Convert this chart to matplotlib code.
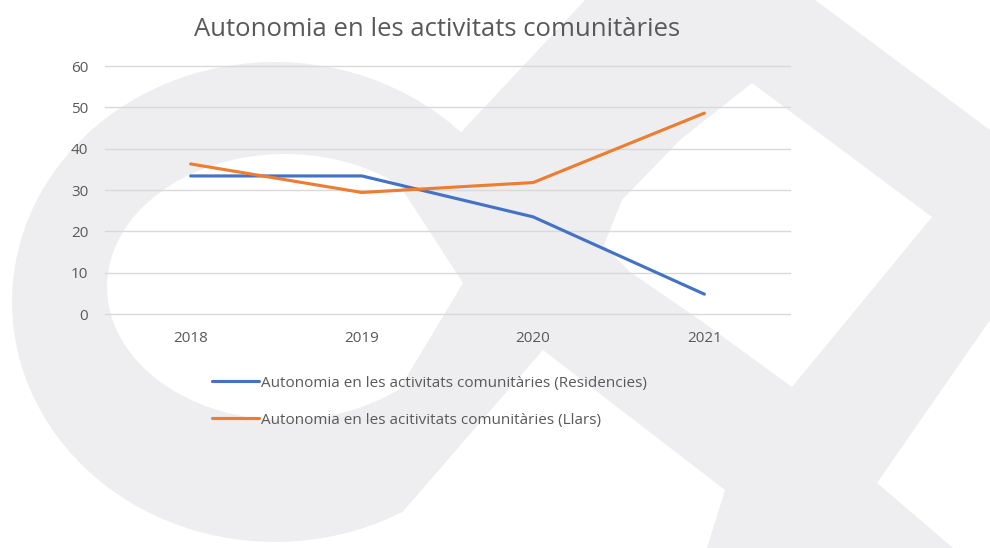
import matplotlib
matplotlib.use('Agg')
import matplotlib.pyplot as plt
from matplotlib.patches import Polygon
import numpy as np

# chart data
years = ['2018', '2019', '2020', '2021']
residencies = [33.4, 33.4, 23.5, 4.8]
llars = [36.3, 29.4, 31.8, 48.6]
labels = ['Autonomia en les activitats comunitàries (Residencies)',
          'Autonomia en les acitivitats comunitàries (Llars)']
title = 'Autonomia en les activitats comunitàries'
yticks = [0, 10, 20, 30, 40, 50, 60]

plt.rcParams['font.family'] = ['Open Sans', 'DejaVu Sans']

BLUE = '#4472C4'
ORANGE = '#ED7D31'
TEXT = '#595959'
GRID = '#d9d9d9'
WM = '#eeeef1'


def arc(cx, cy, a, b, t0, t1, n=60):
    t = np.radians(np.linspace(t0, t1, n))
    return list(zip(cx + a * np.cos(t), cy - b * np.sin(t)))


def draw_watermark(fig):
    """Light grey logo shape sitting behind the chart (pixel coords, y down)."""
    bg = fig.add_axes([0, 0, 1, 1], zorder=0)
    bg.set_xlim(0, 990)
    bg.set_ylim(548, 0)
    bg.axis('off')
    right_part = [(585, 0), (815, 0), (990, 130), (990, 320), (877, 483),
                  (953, 548), (707, 548), (725, 490), (660, 440), (543, 350)]
    outer = right_part + arc(275, 302, 263, 240, 299, 45, 80)
    bg.add_patch(Polygon(outer, closed=True, fc=WM, ec='none'))
    hole_left = [(463, 283)] + arc(285, 287, 178, 133, 50, 310, 70)
    hole_right = [(752, 83), (932, 217), (792, 387), (700, 320), (630, 272),
                  (604, 245), (622, 200), (680, 140)]
    for h in (hole_left, hole_right):
        bg.add_patch(Polygon(h, closed=True, fc='white', ec='none'))


fig = plt.figure(figsize=(9.9, 5.48), dpi=100)
fig.patch.set_facecolor('white')
draw_watermark(fig)

ax = fig.add_axes([105 / 990, 1 - 314 / 548, 685 / 990, 248 / 548], zorder=1)
ax.set_facecolor('none')

x = list(range(len(years)))
ax.plot(x, residencies, color=BLUE, lw=2.25, solid_capstyle='round', label=labels[0])
ax.plot(x, llars, color=ORANGE, lw=2.25, solid_capstyle='round', label=labels[1])

ax.set_xlim(-0.5, len(years) - 0.5)
ax.set_ylim(0, 60)
ax.set_yticks(yticks)
ax.set_xticks(x)
ax.set_xticklabels(years)
ax.yaxis.grid(True, color=GRID, lw=1)
for gl in ax.get_ygridlines():
    gl.set_clip_on(False)
ax.set_axisbelow(True)
for s in ax.spines.values():
    s.set_visible(False)
ax.tick_params(axis='both', length=0, colors=TEXT, labelsize=11)
ax.tick_params(axis='x', pad=12)
ax.tick_params(axis='y', pad=12)

fig.text(437 / 990, 1 - 30 / 548, title, ha='center', va='center',
         fontsize=18.5, color=TEXT)

fig.legend(loc='upper left', bbox_to_anchor=(204 / 990, 1 - 368 / 548),
           frameon=False, fontsize=11, labelcolor=TEXT, handlelength=3.1,
           handletextpad=0.12, labelspacing=1.45, borderpad=0)

fig.savefig('out.png', dpi=100, facecolor=fig.get_facecolor())
